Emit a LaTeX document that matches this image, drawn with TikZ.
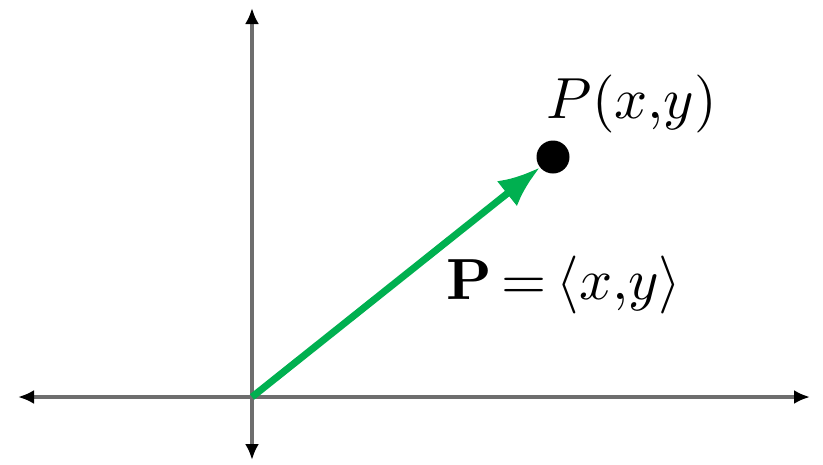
\documentclass[tikz,border=0pt]{standalone}
\usetikzlibrary{arrows.meta}
\begin{document}
\begin{tikzpicture}[x=1pt,y=-1pt,
  axis/.style={draw=axisgray,line width=4.5pt,{Latex[black,length=16pt,width=14pt]}-{Latex[black,length=16pt,width=14pt]}},
  vec/.style={draw=vgreen,line width=7pt,-{Latex[length=42pt,width=32pt]}},
  pt/.style={circle,fill=black,inner sep=0pt,minimum size=33pt},
  lbl/.style={inner sep=0pt,scale=5.8}]
\definecolor{axisgray}{HTML}{6E6E6E}
\definecolor{vgreen}{HTML}{00B050}
\useasboundingbox (0,0) rectangle (823,464);
\coordinate (O) at (252,397);
\coordinate (L) at (18,397);
\coordinate (R) at (810,397);
\coordinate (T) at (252,8);
\coordinate (B) at (252,460);
\draw[axis] (L) -- (R);
\draw[axis] (B) -- (T);
\node[pt] (P) at (553,157) {};
\draw[vec] (O) -- (P);
\node[lbl] (lp) at (632,104) {$P(x{,}y)$};
\node[lbl] (lv) at (564,285) {$\mathbf{P}\,{=}\,\langle x{,}y\rangle$};
\end{tikzpicture}
\end{document}
